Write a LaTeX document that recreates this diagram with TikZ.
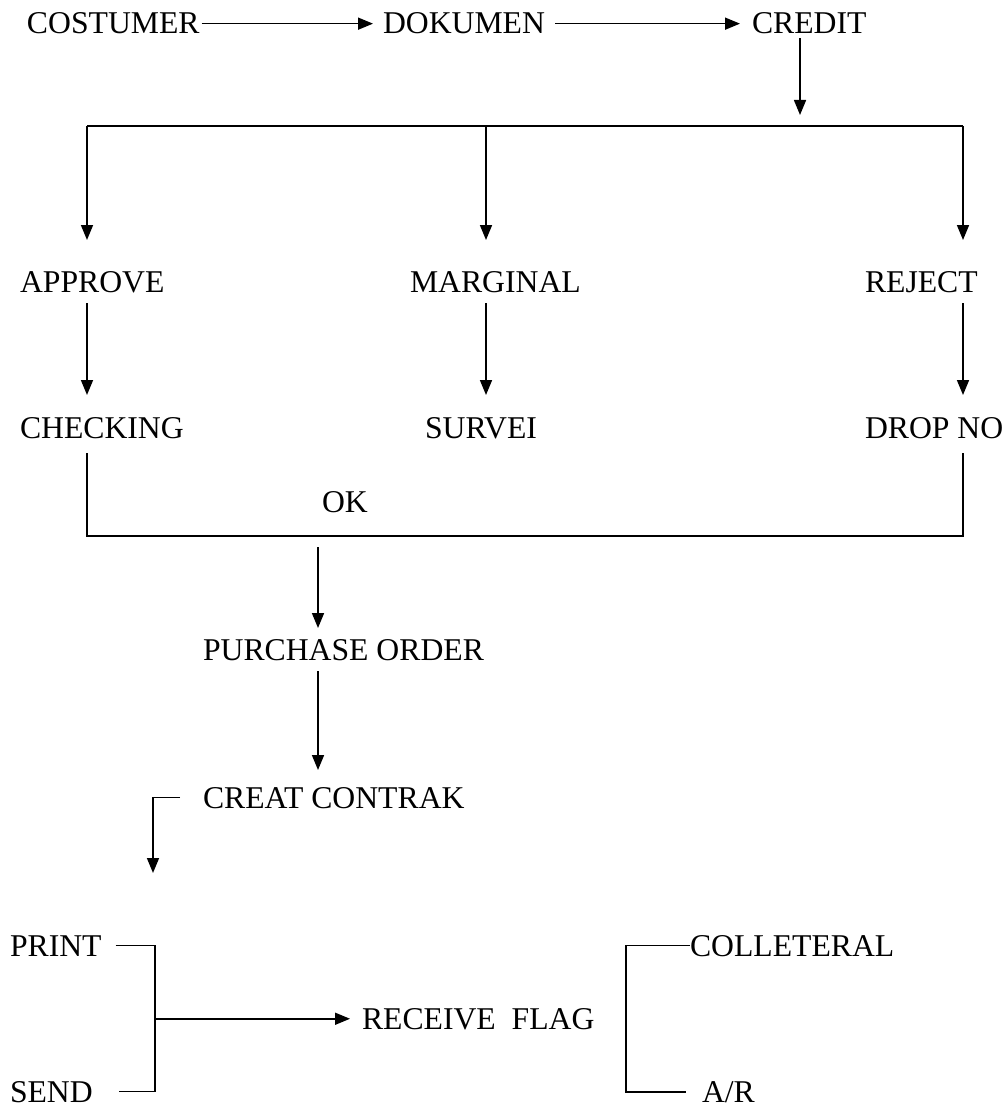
\documentclass[tikz,border=0pt]{standalone}
\usepackage{fontspec}
\setmainfont{Liberation Serif}
\usetikzlibrary{arrows.meta,calc}
\begin{document}
\begin{tikzpicture}[x=1pt,y=-1pt,
  lbl/.style={anchor=base west,inner sep=0pt,outer sep=0pt,font=\fontsize{31.7}{38}\selectfont},
  ln/.style={line width=1.6pt},
  arr/.style={ln,-{Triangle[length=15pt,width=12pt]}}]
\useasboundingbox (0,0) rectangle (1008,1107);
% nodes
\node[lbl] (cost) at (27,34) {COSTUMER};
\node[lbl] (dok) at (383,34) {DOKUMEN};
\node[lbl] (credit) at (752,34) {CREDIT};
\node[lbl] (approve) at (20,292) {APPROVE};
\node[lbl] (marginal) at (410,292) {MARGINAL};
\node[lbl] (reject) at (865,292) {REJECT};
\node[lbl] (checking) at (20,438) {CHECKING};
\node[lbl] (survei) at (425,438) {SURVEI};
\node[lbl] (dropno) at (865,438) {DROP NO};
\node[lbl] (ok) at (322,512) {OK};
\node[lbl] (purchase) at (203,660) {PURCHASE ORDER};
\node[lbl] (creat) at (203,808) {CREAT CONTRAK};
\node[lbl] (print) at (10,956) {PRINT};
\node[lbl] (receive) at (362,1029) {RECEIVE~~FLAG};
\node[lbl] (colleteral) at (690,956) {COLLETERAL};
\node[lbl] (send) at (10,1102) {SEND};
\node[lbl] (ar) at (702,1102) {A/R};
% coordinates
\coordinate (tipC) at (800,115);
\coordinate (bL) at (87,126);
\coordinate (bM) at (486,126);
\coordinate (bR) at (963,126);
\coordinate (okL) at (87,536);
\coordinate (okR) at (963,536);
\coordinate (pStart) at (318,547);
\coordinate (ccTip) at (153,873);
\coordinate (brX) at (155,0);
\coordinate (brR) at (626,0);
% top row
\draw[arr,shorten <=2pt,shorten >=10pt] (cost.east) -- (dok.west);
\draw[arr,shorten <=10pt,shorten >=12pt] (dok.east) -- (credit.west);
\draw[arr,shorten <=4pt] (credit.south -| tipC) -- (tipC);
% bus
\draw[ln] (bL) -- (bR);
\draw[arr,shorten >=31pt] (bL) -- (approve.north -| bL);
\draw[arr,shorten >=31pt] (bM) -- (marginal.north -| bM);
\draw[arr,shorten >=31pt] (bR) -- (reject.north -| bR);
\draw[arr,shorten <=11pt,shorten >=22pt] (approve.south -| bL) -- (checking.north -| bL);
\draw[arr,shorten <=11pt,shorten >=22pt] (marginal.south -| bM) -- (survei.north -| bM);
\draw[arr,shorten <=11pt,shorten >=22pt] (reject.south -| bR) -- (dropno.north -| bR);
% OK bus
\draw[ln] ($(checking.south -| bL)+(0,15)$) -- (okL) -- (okR) -- ($(dropno.south -| bR)+(0,15)$);
\draw[arr,shorten >=11pt] (pStart) -- (purchase.north -| pStart);
\draw[arr,shorten <=11pt,shorten >=17pt] (purchase.south -| pStart) -- (creat.north -| pStart);
\draw[arr,shorten <=23pt] (creat.west) -| (ccTip);
% print/send bracket
\draw[ln,shorten <=14pt,shorten >=26pt] (print.east) -| (send.east -| brX) -- (send.east);
\draw[arr,shorten >=12pt] (receive.west -| brX) -- (receive.west);
% colleteral / AR bracket
\draw[ln,shorten >=16pt] (colleteral.west) -| (ar.west -| brR) -- (ar.west);
\end{tikzpicture}
\end{document}
